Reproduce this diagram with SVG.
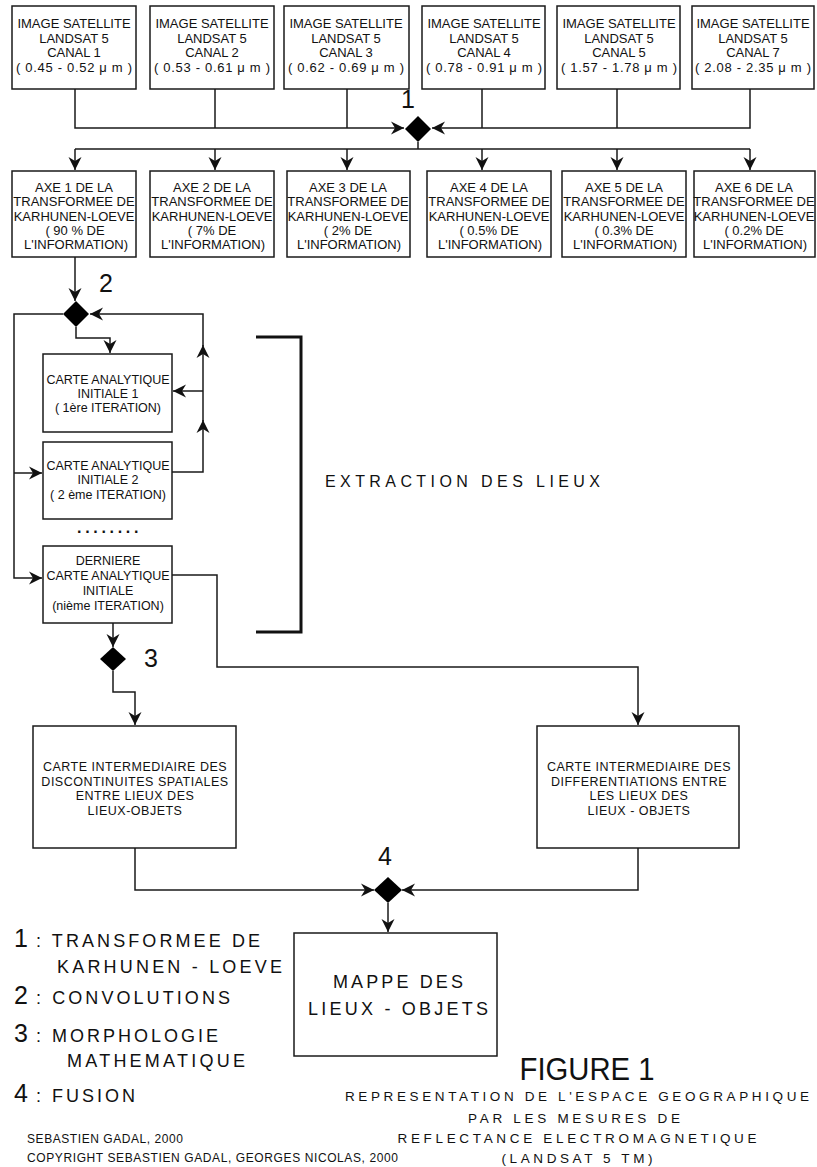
<svg xmlns="http://www.w3.org/2000/svg" width="817" height="1167" viewBox="0 0 817 1167">
<defs>
<marker id="ah" viewBox="0 0 14 14" refX="13" refY="7" markerWidth="14" markerHeight="14" markerUnits="userSpaceOnUse" orient="auto">
<path d="M13,7 L0,0.5 L4,7 L0,13.5 Z" fill="#111"/>
</marker>
</defs>
<style>
.bx{fill:#fff;stroke:#1a1a1a;stroke-width:1.5}
.ln{fill:none;stroke:#1a1a1a;stroke-width:1.5}
.arr{marker-end:url(#ah)}
.dm{fill:#000}
text{font-family:"Liberation Sans",Arial,sans-serif;fill:#111}
.c13{font-size:13px;text-anchor:middle}
.c125{font-size:12.5px;text-anchor:middle}
.c12{font-size:12.5px;text-anchor:middle;letter-spacing:0.5px}
.num{font-size:25px;text-anchor:middle}
.leg{font-size:18px}
.big{font-size:18px;text-anchor:middle}
.sub{font-size:13.5px;text-anchor:middle}
.small{font-size:12px}
</style>
<rect width="817" height="1167" fill="#fff"/>

<g id="connectors">
<path class="ln arr" d="M75,89 V128 H404"/>
<path class="ln" d="M215,89 V128 M347,89 V128 M482,89 V128 M617,89 V128"/>
<path class="ln arr" d="M750,89 V128 H432"/>
<path class="ln" d="M418,142 V149 M75,149 H750"/>
<path class="ln arr" d="M75,149 V170"/>
<path class="ln arr" d="M215,149 V170"/>
<path class="ln arr" d="M347,149 V170"/>
<path class="ln arr" d="M482,149 V170"/>
<path class="ln arr" d="M617,149 V170"/>
<path class="ln arr" d="M750,149 V170"/>

<path class="ln arr" d="M75,257 V301"/>
<path class="ln arr" d="M76,327 V338 H110 V353"/>
<path class="ln arr" d="M63,314 H14 V578 H42"/>
<path class="ln arr" d="M14,473 H42"/>
<path class="ln arr" d="M172,472 H203 V420"/>
<path class="ln arr" d="M203,421 V345"/>
<path class="ln arr" d="M203,346 V314 H90"/>
<path class="ln arr" d="M203,391 H173"/>

<path class="ln arr" d="M172,575 H217 V667 H638 V725"/>
<path class="ln arr" d="M113,623 V647"/>
<path class="ln arr" d="M113,671 V692 H135 V725"/>
<path class="ln arr" d="M135,848 V890 H374"/>
<path class="ln arr" d="M638,848 V890 H402"/>
<path class="ln arr" d="M388,903 V932"/>

<path d="M256,337 H301 V632 H256" fill="none" stroke="#111" stroke-width="3"/>
</g>

<g id="diamond1"><path class="dm" d="M418,116 L431,129 L418,142 L405,129 Z"/><text class="num" x="408" y="108">1</text></g>
<g id="diamond2"><path class="dm" d="M76,301 L89,314 L76,327 L63,314 Z"/><text class="num" x="106" y="292">2</text></g>
<g id="diamond3"><path class="dm" d="M113,647 L126,659 L113,671 L100,659 Z"/><text class="num" x="151" y="667">3</text></g>
<g id="diamond4"><path class="dm" d="M388,877 L402,890 L388,903 L374,890 Z"/><text class="num" x="385" y="865">4</text></g>

<g id="img1"><rect class="bx" x="12" y="6" width="124" height="83"/>
<text class="c13" x="74" y="28">IMAGE SATELLITE</text><text class="c13" x="74" y="42.5">LANDSAT 5</text><text class="c13" x="74" y="57">CANAL 1</text><text class="c13" x="74" y="71.5" textLength="116">( 0.45 - 0.52 μ m )</text></g>
<g id="img2"><rect class="bx" x="150" y="6" width="124" height="83"/>
<text class="c13" x="212" y="28">IMAGE SATELLITE</text><text class="c13" x="212" y="42.5">LANDSAT 5</text><text class="c13" x="212" y="57">CANAL 2</text><text class="c13" x="212" y="71.5" textLength="116">( 0.53 - 0.61 μ m )</text></g>
<g id="img3"><rect class="bx" x="284" y="6" width="125" height="83"/>
<text class="c13" x="346" y="28">IMAGE SATELLITE</text><text class="c13" x="346" y="42.5">LANDSAT 5</text><text class="c13" x="346" y="57">CANAL 3</text><text class="c13" x="346" y="71.5" textLength="116">( 0.62 - 0.69 μ m )</text></g>
<g id="img4"><rect class="bx" x="422" y="6" width="123" height="83"/>
<text class="c13" x="484" y="28">IMAGE SATELLITE</text><text class="c13" x="484" y="42.5">LANDSAT 5</text><text class="c13" x="484" y="57">CANAL 4</text><text class="c13" x="484" y="71.5" textLength="116">( 0.78 - 0.91 μ m )</text></g>
<g id="img5"><rect class="bx" x="557" y="6" width="123" height="83"/>
<text class="c13" x="619" y="28">IMAGE SATELLITE</text><text class="c13" x="619" y="42.5">LANDSAT 5</text><text class="c13" x="619" y="57">CANAL 5</text><text class="c13" x="619" y="71.5" textLength="116">( 1.57 - 1.78 μ m )</text></g>
<g id="img7"><rect class="bx" x="692" y="6" width="122" height="83"/>
<text class="c13" x="753" y="28">IMAGE SATELLITE</text><text class="c13" x="753" y="42.5">LANDSAT 5</text><text class="c13" x="753" y="57">CANAL 7</text><text class="c13" x="753" y="71.5" textLength="116">( 2.08 - 2.35 μ m )</text></g>

<g id="axe1"><rect class="bx" x="12" y="171" width="124" height="86"/>
<text class="c13" x="74" y="192">AXE 1 DE LA</text><text class="c13" x="74" y="206.3">TRANSFORMEE DE</text><text class="c13" x="74" y="220.6">KARHUNEN-LOEVE</text><text class="c13" x="75" y="235">( 90 % DE</text><text class="c13" x="76" y="249">L'INFORMATION)</text></g>
<g id="axe2"><rect class="bx" x="150" y="171" width="124" height="86"/>
<text class="c13" x="212" y="192">AXE 2 DE LA</text><text class="c13" x="212" y="206.3">TRANSFORMEE DE</text><text class="c13" x="212" y="220.6">KARHUNEN-LOEVE</text><text class="c13" x="212" y="235">( 7% DE</text><text class="c13" x="213" y="249">L'INFORMATION)</text></g>
<g id="axe3"><rect class="bx" x="287" y="171" width="123" height="86"/>
<text class="c13" x="348" y="192">AXE 3 DE LA</text><text class="c13" x="348" y="206.3">TRANSFORMEE DE</text><text class="c13" x="348" y="220.6">KARHUNEN-LOEVE</text><text class="c13" x="348" y="235">( 2% DE</text><text class="c13" x="349" y="249">L'INFORMATION)</text></g>
<g id="axe4"><rect class="bx" x="427" y="171" width="124" height="86"/>
<text class="c13" x="489" y="192">AXE 4 DE LA</text><text class="c13" x="489" y="206.3">TRANSFORMEE DE</text><text class="c13" x="489" y="220.6">KARHUNEN-LOEVE</text><text class="c13" x="489" y="235">( 0.5% DE</text><text class="c13" x="490" y="249">L'INFORMATION)</text></g>
<g id="axe5"><rect class="bx" x="562" y="171" width="124" height="86"/>
<text class="c13" x="624" y="192">AXE 5 DE LA</text><text class="c13" x="624" y="206.3">TRANSFORMEE DE</text><text class="c13" x="624" y="220.6">KARHUNEN-LOEVE</text><text class="c13" x="624" y="235">( 0.3% DE</text><text class="c13" x="625" y="249">L'INFORMATION)</text></g>
<g id="axe6"><rect class="bx" x="694" y="171" width="121" height="86"/>
<text class="c13" x="754" y="192">AXE 6 DE LA</text><text class="c13" x="754" y="206.3">TRANSFORMEE DE</text><text class="c13" x="754" y="220.6">KARHUNEN-LOEVE</text><text class="c13" x="754" y="235">( 0.2% DE</text><text class="c13" x="755" y="249">L'INFORMATION)</text></g>

<g id="carte1"><rect class="bx" x="43" y="354" width="129" height="78"/>
<text class="c125" x="108" y="384">CARTE ANALYTIQUE</text><text class="c125" x="108" y="398">INITIALE 1</text><text class="c125" x="108" y="412">( 1ère ITERATION)</text></g>
<g id="carte2"><rect class="bx" x="43" y="442" width="129" height="77"/>
<text class="c125" x="108" y="470">CARTE ANALYTIQUE</text><text class="c125" x="108" y="484">INITIALE 2</text><text class="c125" x="108" y="499">( 2 ème ITERATION)</text></g>
<g id="dots"><text x="77" y="533" style="font-size:16px;font-weight:bold;letter-spacing:3.7px">........</text></g>
<g id="carte3"><rect class="bx" x="43" y="546" width="129" height="77"/>
<text class="c125" x="108" y="565">DERNIERE</text><text class="c125" x="108" y="580">CARTE ANALYTIQUE</text><text class="c125" x="108" y="595">INITIALE</text><text class="c125" x="108" y="610">(nième ITERATION)</text></g>

<g id="extraction"><text x="325" y="487" style="font-size:16px" textLength="275">EXTRACTION DES LIEUX</text></g>

<g id="inter1"><rect class="bx" x="33" y="726" width="203" height="122"/>
<text class="c12" x="135" y="771">CARTE INTERMEDIAIRE DES</text><text class="c12" x="135" y="786">DISCONTINUITES SPATIALES</text><text class="c12" x="135" y="800">ENTRE LIEUX DES</text><text class="c12" x="135" y="815">LIEUX-OBJETS</text></g>
<g id="inter2"><rect class="bx" x="537" y="726" width="202" height="122"/>
<text class="c12" x="639" y="771">CARTE INTERMEDIAIRE DES</text><text class="c12" x="639" y="786">DIFFERENTIATIONS ENTRE</text><text class="c12" x="639" y="800">LES LIEUX DES</text><text class="c12" x="639" y="815">LIEUX - OBJETS</text></g>

<g id="mappe"><rect class="bx" x="294" y="933" width="203" height="123"/>
<text class="big" x="398" y="988" textLength="130">MAPPE DES</text><text class="big" x="398" y="1015" textLength="180">LIEUX - OBJETS</text></g>

<g id="legend">
<text class="num" x="21" y="947">1</text><text class="leg" x="36" y="947" textLength="224">: TRANSFORMEE DE</text>
<text class="leg" x="57" y="973" textLength="225">KARHUNEN - LOEVE</text>
<text class="num" x="21" y="1004">2</text><text class="leg" x="36" y="1004" textLength="194">: CONVOLUTIONS</text>
<text class="num" x="21" y="1042">3</text><text class="leg" x="36" y="1042" textLength="182">: MORPHOLOGIE</text>
<text class="leg" x="67" y="1067" textLength="178">MATHEMATIQUE</text>
<text class="num" x="21" y="1102">4</text><text class="leg" x="36" y="1102" textLength="99">: FUSION</text>
<text class="small" x="27" y="1143" textLength="156">SEBASTIEN GADAL, 2000</text>
<text class="small" x="27" y="1162" textLength="371">COPYRIGHT SEBASTIEN GADAL, GEORGES NICOLAS, 2000</text>
</g>

<g id="title">
<text x="587" y="1080" style="font-size:32px;text-anchor:middle" textLength="135" lengthAdjust="spacingAndGlyphs">FIGURE 1</text>
<text class="sub" x="577" y="1101" textLength="464">REPRESENTATION DE L'ESPACE GEOGRAPHIQUE</text>
<text class="sub" x="574" y="1123" textLength="212">PAR LES MESURES DE</text>
<text class="sub" x="577" y="1143" textLength="359">REFLECTANCE ELECTROMAGNETIQUE</text>
<text class="sub" x="577" y="1163" textLength="151">(LANDSAT 5 TM)</text>
</g>
</svg>
